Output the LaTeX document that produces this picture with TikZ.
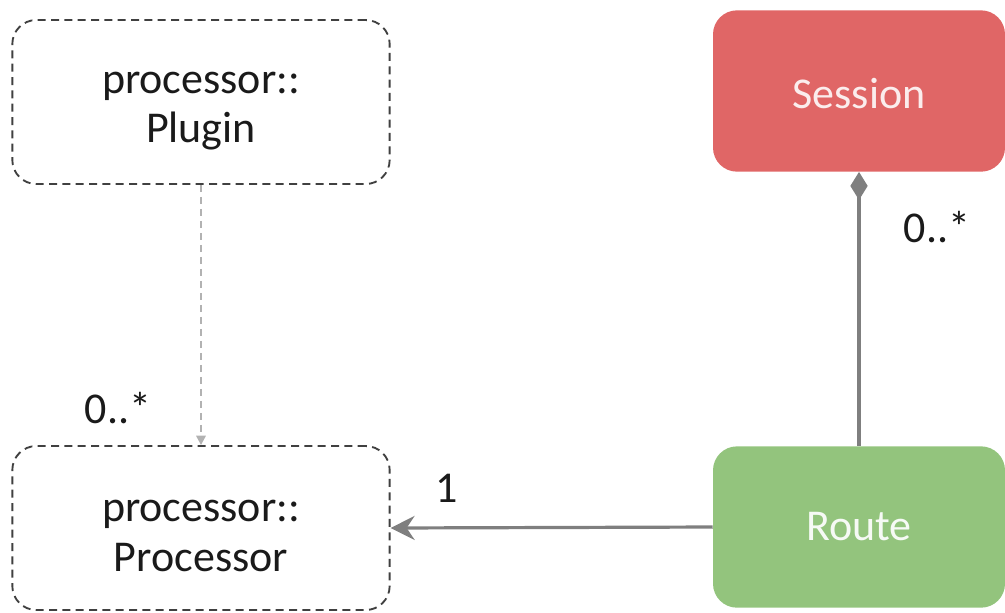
\documentclass[tikz,border=0pt]{standalone}
\usepackage{fontspec}
\setmainfont{Carlito}
\usetikzlibrary{arrows.meta}
\definecolor{sessred}{HTML}{E06666}
\definecolor{routegreen}{HTML}{93C47D}
\definecolor{lineg}{HTML}{7F7F7F}
\definecolor{dashg}{HTML}{404040}
\definecolor{txt}{HTML}{1A1A1A}
\tikzset{
  px/.style={x=0.75pt,y=-0.75pt},
  dashbox/.style={draw=dashg, line width=1.4pt, dash pattern=on 6pt off 4pt, rounded corners=18pt, minimum width=283pt, minimum height=123pt, align=center, text=txt, inner sep=0pt, font=\fontsize{33}{35}\selectfont},
  fillbox/.style={rounded corners=18pt, minimum width=219pt, minimum height=121pt, align=center, inner sep=0pt, font=\fontsize{33}{35}\selectfont},
  lbl/.style={text=txt, font=\fontsize{33}{35}\selectfont, inner sep=0pt}
}
\begin{document}
\begin{tikzpicture}[px]
\useasboundingbox (0,0) rectangle (1005,612);
\node[dashbox] (plugin) at (201,102) {\rule{0pt}{30pt}processor::\\[2pt]Plugin};
\node[dashbox] (proc) at (201,528) {\rule{0pt}{28pt}processor::\\[2pt]Processor};
\node[fillbox, fill=sessred, text=white!88!sessred] (sess) at (859,91) {\rule{0pt}{26pt}Session};
\node[fillbox, fill=routegreen, text=white!92!routegreen] (route) at (859,527) {Route};
\draw[lineg!60, line width=1.6pt, dash pattern=on 5pt off 4pt, -{Triangle[length=7pt,width=7pt]}] (plugin.south) -- (proc.north);
\draw[lineg, line width=2.4pt, {Diamond[length=21pt,width=13pt]}-] (sess.south) -- (route.north);
\draw[lineg, line width=2.4pt, -{Stealth[length=18pt,width=18pt,inset=6pt]}] (route.west) -- (proc.east);
\node[lbl] (l1) at (118,408) {0..*};
\node[lbl] (l2) at (447,488) {1};
\node[lbl] (l3) at (937,227) {0..*};
\end{tikzpicture}
\end{document}
